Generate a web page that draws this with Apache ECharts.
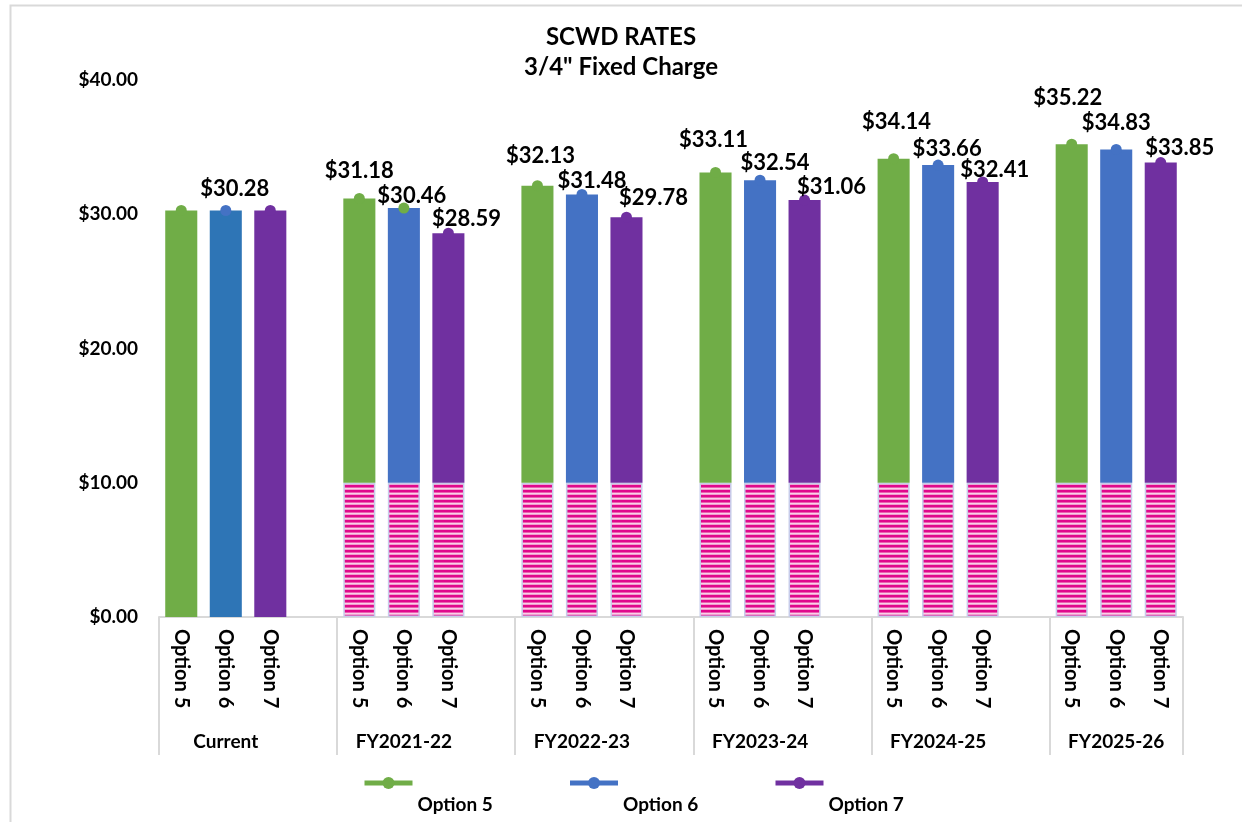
<!DOCTYPE html>
<html><head><meta charset="utf-8">
<script src="https://cdn.jsdelivr.net/npm/echarts@6/dist/echarts.min.js"></script>
<style>html,body{margin:0;padding:0;background:#fff}#c{width:1242px;height:822px}</style>
</head><body><div id="c"></div>
<script>
// ---------------- data ----------------
const titleLines = ['SCWD RATES', '3/4" Fixed Charge'];
const groups = ['Current', 'FY2021-22', 'FY2022-23', 'FY2023-24', 'FY2024-25', 'FY2025-26'];
const options = ['Option 5', 'Option 6', 'Option 7'];
const option5 = [30.28, 31.18, 32.13, 33.11, 34.14, 35.22];
const option6 = [30.28, 30.46, 31.48, 32.54, 33.66, 34.83];
const option7 = [30.28, 28.59, 29.78, 31.06, 32.41, 33.85];
const hatchedPortion = [0, 10, 10, 10, 10, 10];
const yTicks = [0, 10, 20, 30, 40];
// labels shown on the Current group (only the middle one)
const currentLabelShown = [false, true, false];

// ---------------- style ----------------
const FONT = 'Lato';
const colors = ['#70AD47', '#4472C4', '#7030A0'];
const currentOpt6Color = '#2E75B6';
// marker colour quirks of the original (group, option) -> colour
const markerColorQuirk = { '1-1': '#70AD47' };
// label nudges [dx, dy] relative to marker, per group, per option
const labelNudge = [
  [[0, -22], [9, -22], [0, -22]],
  [[0, -28], [8, -12], [18, -14]],
  [[3, -30], [10, -13], [27, -19]],
  [[-2, -33], [15, -17], [27, -13]],
  [[3, -37], [9, -16], [12, -12]],
  [[-4, -46], [0, -27], [19, -15]]
];

const values = [option5, option6, option7];

// hatch pattern
const pc = document.createElement('canvas');
pc.width = 8; pc.height = 5;
const px = pc.getContext('2d');
const rows = ['#E0088C', '#E0088C', '#EC5FB2', '#FAD0E8', '#F49BCF'];
rows.forEach((c, i) => { px.fillStyle = c; px.fillRect(0, i, 8, 1); });

// slots
const slots = [];
groups.forEach((g, gi) => {
  options.forEach((o, oi) => slots.push({ key: g + '|' + o, g: gi, o: oi }));
  if (gi < groups.length - 1) slots.push({ key: 'gap' + gi, g: gi, o: -1 });
});
const nSlots = slots.length;

const hatchData = slots.map(s => (s.o < 0 || hatchedPortion[s.g] <= 0) ? '-' : hatchedPortion[s.g]);
const topData = slots.map(s => {
  if (s.o < 0) return '-';
  const v = values[s.o][s.g];
  const c = (s.g === 0 && s.o === 1) ? currentOpt6Color : colors[s.o];
  return { value: +(v - hatchedPortion[s.g]).toFixed(2), itemStyle: { color: c } };
});

const lineSeries = options.map((name, oi) => ({
  name, type: 'line', xAxisIndex: 0, yAxisIndex: 0, z: 5,
  symbol: 'circle', symbolSize: 11, connectNulls: false,
  itemStyle: { color: colors[oi] },
  lineStyle: { width: 5, color: colors[oi] },
  data: slots.map(s => {
    if (s.o !== oi) return '-';
    const v = values[oi][s.g];
    const show = s.g === 0 ? currentLabelShown[oi] : true;
    const q = markerColorQuirk[s.g + '-' + oi];
    const item = {
      value: v,
      label: { show, position: 'inside', offset: labelNudge[s.g][oi] }
    };
    if (q) item.itemStyle = { color: q };
    return item;
  }),
  label: {
    show: true, position: 'inside',
    formatter: p => '$' + p.value.toFixed(2),
    fontFamily: FONT, fontWeight: 'bold', fontSize: 22, color: '#000'
  }
}));

const chart = echarts.init(document.getElementById('c'), null, { renderer: 'canvas' });
chart.setOption({
  backgroundColor: '#fff',
  animation: false,
  title: {
    text: titleLines.join('\n'), left: 'center', top: 17,
    textStyle: { fontFamily: FONT, fontWeight: 'bold', fontSize: 24, color: '#000', lineHeight: 30 }
  },
  graphic: [{
    type: 'rect', left: 8, top: 3, silent: true,
    shape: { width: 1250, height: 840 },
    style: { fill: 'none', stroke: '#D9D9D9', lineWidth: 2 }
  }],
  legend: options.map((name, i) => ({
    data: [name], left: 362 + i * 205.5, top: 777, padding: 0,
    itemWidth: 48, itemHeight: 15, itemGap: 0,
    formatter: n => '{t|' + n + '}',
    textStyle: {
      fontFamily: FONT, fontWeight: 'bold', fontSize: 19, color: '#000',
      rich: { t: { fontFamily: FONT, fontWeight: 'bold', fontSize: 19, color: '#000', padding: [44, 0, 0, 0] } }
    },
    lineStyle: { width: 5 }
  })),
  grid: { left: 159, right: 59, top: 80, bottom: 205, containLabel: false },
  xAxis: [
    {
      type: 'category', data: slots.map(s => s.key), position: 'bottom',
      axisLine: { show: true, lineStyle: { color: '#D9D9D9', width: 2 } },
      axisTick: { show: false },
      axisLabel: {
        interval: 0, rotate: -90, margin: 12,
        formatter: v => v.indexOf('|') >= 0 ? v.split('|')[1] : '',
        fontFamily: FONT, fontWeight: 'bold', fontSize: 20, color: '#000'
      },
      splitLine: { show: false }
    },
    {
      type: 'value', min: 0, max: nSlots, interval: 4, position: 'bottom',
      axisLine: { show: false },
      axisTick: { show: true, length: 138, lineStyle: { color: '#D9D9D9', width: 2 } },
      axisLabel: { show: false }, splitLine: { show: false }
    },
    {
      type: 'value', min: 0, max: nSlots, interval: 0.5, position: 'bottom',
      axisLine: { show: false }, axisTick: { show: false }, splitLine: { show: false },
      axisLabel: {
        margin: 115, showMinLabel: true, showMaxLabel: true,
        formatter: v => {
          const k = (v - 1.5) / 4;
          return (Number.isInteger(k) && k >= 0 && k < groups.length) ? groups[k] : '';
        },
        fontFamily: FONT, fontWeight: 'bold', fontSize: 19, color: '#000'
      }
    }
  ],
  yAxis: {
    type: 'value', min: yTicks[0], max: yTicks[yTicks.length - 1], interval: yTicks[1] - yTicks[0],
    axisLine: { show: false }, axisTick: { show: false }, splitLine: { show: false },
    axisLabel: {
      margin: 21, formatter: v => '$' + v.toFixed(2),
      fontFamily: FONT, fontWeight: 'bold', fontSize: 19, color: '#000'
    }
  },
  series: [
    {
      name: 'fixed', type: 'bar', stack: 'a', barWidth: '72%', xAxisIndex: 0, yAxisIndex: 0,
      itemStyle: { color: { image: pc, repeat: 'repeat' }, borderColor: '#C7CCEA', borderWidth: 1.5 },
      data: hatchData
    },
    {
      name: 'rate', type: 'bar', stack: 'a', barWidth: '72%', xAxisIndex: 0, yAxisIndex: 0,
      data: topData
    },
    ...lineSeries
  ]
});
</script>
</body></html>
